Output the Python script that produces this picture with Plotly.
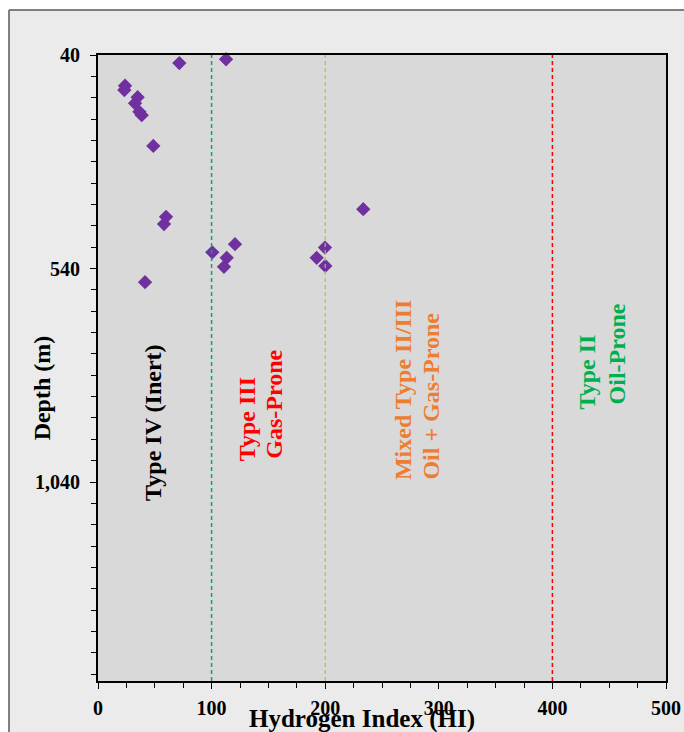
import plotly.graph_objects as go

# ---- data ----
hi_values = [23.8, 23.2, 34.9, 32.6, 36.4, 38.5, 48.7, 71.6, 112.7,
             59.9, 58.1, 41.4, 100.6, 120.6, 113.3, 110.9,
             199.8, 192.5, 200.1, 233.5]
depth_values = [112, 122, 139, 153, 173, 181, 253, 59, 50,
                419, 436, 572, 502, 483, 515, 536,
                491, 515, 534, 401]

boundary_hi = [100, 200, 400]
boundary_colors = ["#00a86b", "#92d050", "#ff0000"]
boundary_widths = [1.5, 1.2, 1.5]

x_tickvals = [0, 100, 200, 300, 400, 500]
x_ticktext = ["0", "100", "200", "300", "400", "500"]
y_tickvals = [40, 540, 1040]
y_ticktext = ["40", "540", "1,040"]

# zone label lines (each line placed separately)
zone_lines = ["Type IV (Inert)", "Type III", "Gas-Prone",
              "Mixed Type II/III", "Oil + Gas-Prone", "Type II", "Oil-Prone"]
zone_colors = ["#000000", "#ff0000", "#ff0000",
               "#ed7d31", "#ed7d31", "#00b050", "#00b050"]
zone_hi = [48.4, 131.2, 154.9, 268.5, 292.3, 430.5, 456.9]
zone_depth_start = [1089, 996, 989, 1040, 1040, 876, 864]

FONT = "Liberation Serif"

fig = go.Figure()
fig.add_trace(go.Scatter(
    x=hi_values, y=depth_values, mode="markers",
    marker=dict(symbol="diamond", size=11, color="#7030a0"),
    cliponaxis=False, showlegend=False,
))

shapes = []
for xv, col, w in zip(boundary_hi, boundary_colors, boundary_widths):
    shapes.append(dict(type="line", xref="x", yref="paper", x0=xv, x1=xv, y0=0, y1=1,
                       line=dict(color=col, width=w, dash="4px,3px"), layer="above"))
# outer chart frame: white margin outside, dark gray border line
shapes += [
    dict(type="rect", xref="paper", yref="paper", x0=-0.2, x1=1.2, y0=1.0719, y1=1.2,
         fillcolor="white", line=dict(width=0), layer="below"),
    dict(type="rect", xref="paper", yref="paper", x0=-0.2, x1=-0.1567, y0=-0.2, y1=1.2,
         fillcolor="white", line=dict(width=0), layer="below"),
    dict(type="line", xref="paper", yref="paper", x0=-0.1567, x1=1.2, y0=1.0719, y1=1.0719,
         line=dict(color="#595959", width=1.5)),
    dict(type="line", xref="paper", yref="paper", x0=-0.1567, x1=-0.1567, y0=-0.2, y1=1.0719,
         line=dict(color="#595959", width=1.5)),
]

annotations = []
for txt, col, xv, yv in zip(zone_lines, zone_colors, zone_hi, zone_depth_start):
    annotations.append(dict(x=xv, y=yv, xref="x", yref="y", text=txt, showarrow=False,
                            textangle=-90, xanchor="center", yanchor="bottom",
                            font=dict(family=FONT, size=24, color=col, weight="bold")))
annotations.append(dict(x=0.465, y=-0.0607, xref="paper", yref="paper",
                        text="Hydrogen Index (HI)", showarrow=False,
                        xanchor="center", yanchor="middle",
                        font=dict(family=FONT, size=25, color="#000000", weight="bold")))
annotations.append(dict(x=-0.098, y=0.468, xref="paper", yref="paper",
                        text="Depth (m)", showarrow=False, textangle=-90,
                        xanchor="center", yanchor="middle",
                        font=dict(family=FONT, size=24, color="#000000", weight="bold")))

fig.update_layout(
    width=684, height=732,
    margin=dict(l=98, r=18, t=55, b=51, autoexpand=False),
    paper_bgcolor="#ebebeb", plot_bgcolor="#d9d9d9",
    shapes=shapes, annotations=annotations,
    showlegend=False,
    font=dict(family=FONT, size=20, color="#000000"),
)
fig.update_xaxes(
    range=[0, 500], tickmode="array", tickvals=x_tickvals, ticktext=x_ticktext,
    automargin=False,
    showgrid=False, zeroline=False, showline=True, mirror=True,
    linecolor="#000000", linewidth=2,
    ticks="outside", ticklen=6, tickcolor="#000000", ticklabelstandoff=2,
    tickfont=dict(family=FONT, size=20, color="#000000", weight="bold"),
    minor=dict(tickmode="linear", tick0=0, dtick=25, ticks="outside", ticklen=5,
               tickcolor="#000000", showgrid=False),
)
fig.update_yaxes(
    range=[1506, 40], tickmode="array", tickvals=y_tickvals, ticktext=y_ticktext,
    automargin=False,
    showgrid=False, zeroline=False, showline=True, mirror=True,
    linecolor="#000000", linewidth=2,
    ticks="outside", ticklen=6, tickcolor="#000000", ticklabelstandoff=6,
    tickfont=dict(family=FONT, size=20, color="#000000", weight="bold"),
    minor=dict(tickmode="linear", tick0=40, dtick=50, ticks="outside", ticklen=5,
               tickcolor="#000000", showgrid=False),
)

fig.write_html("out.html")
